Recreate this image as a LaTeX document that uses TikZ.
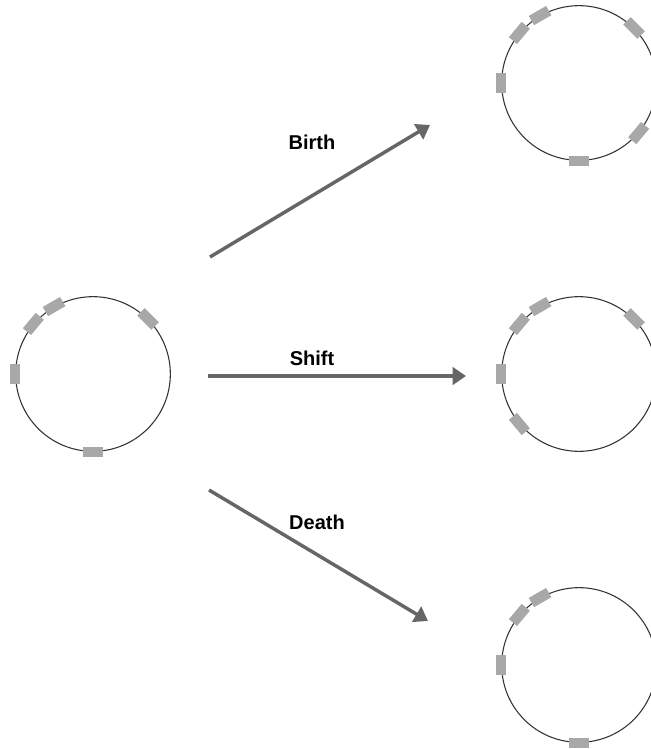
\documentclass[tikz,border=0pt]{standalone}
\usepackage{fontspec}
\setmainfont{Liberation Sans}
\usetikzlibrary{arrows.meta}
\definecolor{ringgray}{HTML}{333333}
\definecolor{seggray}{HTML}{A8A8A8}
\definecolor{arrowgray}{HTML}{666666}
\begin{document}
\begin{tikzpicture}[x=0.75pt, y=-0.75pt,
  ring/.style={draw=ringgray, line width=0.8pt, circle, minimum size=116pt, inner sep=0pt},
  seg/.style={fill=seggray, minimum width=15pt, minimum height=8pt, inner sep=0pt},
  move/.style={draw=arrowgray, line width=2.6pt, -{Triangle[length=10pt, width=13pt]}},
  lbl/.style={font=\bfseries\fontsize{15}{17}\selectfont}]
  \useasboundingbox (0,0) rectangle (650,749);
  \node[ring] (start) at (93,374) {};
  \node[ring] (born) at (579,83) {};
  \node[ring] (moved) at (579,374) {};
  \node[ring] (died) at (579,665) {};
  \foreach \a in {120,140,45,180,270} \node[seg, rotate=\a-90] (start-\a) at (start.\a) {};
  \foreach \a in {120,140,45,180,270,320} \node[seg, rotate=\a-90] (born-\a) at (born.\a) {};
  \foreach \a in {120,140,45,180,220} \node[seg, rotate=\a-90] (moved-\a) at (moved.\a) {};
  \foreach \a in {120,140,180,270} \node[seg, rotate=\a-90] (died-\a) at (died.\a) {};
  \coordinate (birthS) at (210,257);
  \coordinate (birthE) at (430,125);
  \coordinate (shiftS) at (208,376);
  \coordinate (shiftE) at (466,376);
  \coordinate (deathS) at (209,490);
  \coordinate (deathE) at (428,621);
  \draw[move] (birthS) -- (birthE);
  \draw[move] (shiftS) -- (shiftE);
  \draw[move] (deathS) -- (deathE);
  \node[lbl] (birthL) at (312,142) {Birth};
  \node[lbl] (shiftL) at (312,358) {Shift};
  \node[lbl] (deathL) at (317,522) {Death};
\end{tikzpicture}
\end{document}
